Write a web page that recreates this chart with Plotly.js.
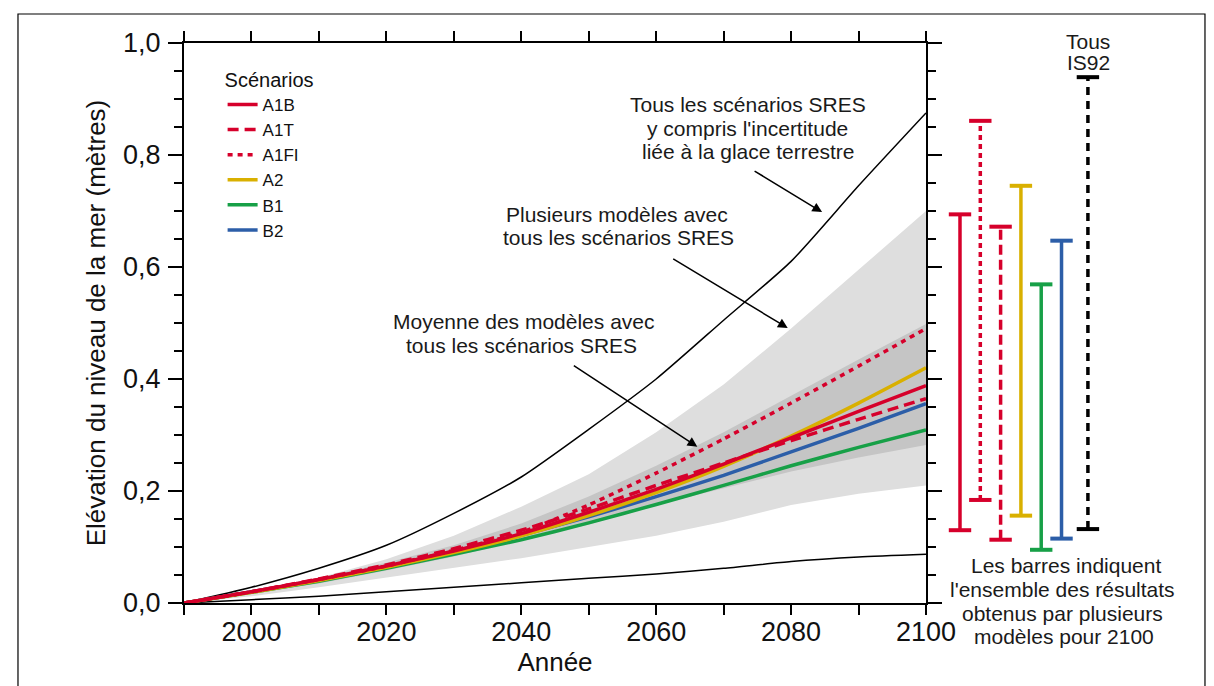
<!DOCTYPE html>
<html>
<head>
<meta charset="utf-8">
<script src="https://cdn.plot.ly/plotly-3.0.1.min.js"></script>
<style>html,body{margin:0;padding:0;background:#fff;}#chart{width:1214px;height:686px;}</style>
</head>
<body>
<div id="chart"></div>
<script>
// ---- data ----
const years = [1990, 2000, 2010, 2020, 2030, 2040, 2050, 2060, 2070, 2080, 2090, 2100];

const scenarioNames = ['A1B', 'A1T', 'A1FI', 'A2', 'B1', 'B2'];
const A1B  = [0, 0.020, 0.042, 0.066, 0.093, 0.124, 0.162, 0.203, 0.248, 0.295, 0.342, 0.388];
const A1T  = [0, 0.020, 0.043, 0.068, 0.097, 0.130, 0.168, 0.210, 0.250, 0.290, 0.328, 0.365];
const A1FI = [0, 0.020, 0.042, 0.066, 0.094, 0.126, 0.175, 0.232, 0.293, 0.357, 0.423, 0.490];
const A2   = [0, 0.019, 0.040, 0.064, 0.090, 0.120, 0.156, 0.197, 0.244, 0.298, 0.357, 0.420];
const B1   = [0, 0.019, 0.039, 0.062, 0.087, 0.113, 0.143, 0.176, 0.210, 0.245, 0.278, 0.309];
const B2   = [0, 0.020, 0.041, 0.065, 0.092, 0.121, 0.154, 0.190, 0.228, 0.270, 0.312, 0.356];

// envelope: all SRES scenarios incl. land-ice uncertainty
const envHigh = [0, 0.028, 0.062, 0.103, 0.160, 0.225, 0.310, 0.400, 0.505, 0.610, 0.745, 0.875];
const envLow  = [0, 0.006, 0.012, 0.020, 0.028, 0.036, 0.044, 0.052, 0.062, 0.074, 0.082, 0.087];
// several models, all SRES scenarios (light grey)
const rangeHigh = [0, 0.020, 0.045, 0.078, 0.120, 0.172, 0.230, 0.305, 0.390, 0.490, 0.595, 0.700];
const rangeLow  = [0, 0.012, 0.028, 0.045, 0.062, 0.080, 0.100, 0.120, 0.145, 0.175, 0.195, 0.210];
// model average, all SRES scenarios (dark grey)
const meanHigh = [0, 0.022, 0.045, 0.072, 0.103, 0.142, 0.190, 0.245, 0.305, 0.370, 0.435, 0.498];
const meanLow  = [0, 0.017, 0.035, 0.058, 0.083, 0.112, 0.140, 0.175, 0.205, 0.235, 0.260, 0.282];

// 2100 ranges (bars on the right)
const barLabels = ['A1B', 'A1FI', 'A1T', 'A2', 'B1', 'B2', 'IS92'];
const barPos    = [1, 2, 3, 4, 5, 6, 7.3];
const barLow    = [0.130, 0.184, 0.113, 0.156, 0.095, 0.115, 0.132];
const barHigh   = [0.694, 0.861, 0.672, 0.745, 0.569, 0.647, 0.939];

// ---- styles ----
const colors = {A1B: '#d6002b', A1T: '#d6002b', A1FI: '#d6002b', A2: '#d9b000', B1: '#17a047', B2: '#2c5ea8', IS92: '#000000'};
const dashes = {A1B: 'solid', A1T: '11px,6px', A1FI: '5px,5px', A2: 'solid', B1: 'solid', B2: 'solid'};
const barDashes = {A1B: 'solid', A1FI: '5px,4px', A1T: '10px,5px', A2: 'solid', B1: 'solid', B2: 'solid', IS92: '8px,6px'};
const series = {A1B, A1T, A1FI, A2, B1, B2};

const FONT = 'Liberation Sans, Arial, sans-serif';
const traces = [];

function band(lo, hi, color) {
  traces.push({x: years, y: lo, mode: 'lines', line: {width: 0, color: color}, showlegend: false, hoverinfo: 'skip'});
  traces.push({x: years, y: hi, mode: 'lines', line: {width: 0, color: color}, fill: 'tonexty', fillcolor: color, showlegend: false, hoverinfo: 'skip'});
}
band(rangeLow, rangeHigh, '#dedede');
band(meanLow, meanHigh, '#c5c5c5');

traces.push({x: years, y: envHigh, mode: 'lines', line: {color: '#000', width: 1.5, shape: 'spline', smoothing: 0.6}, showlegend: false, hoverinfo: 'skip'});
traces.push({x: years, y: envLow, mode: 'lines', line: {color: '#000', width: 1.5, shape: 'spline', smoothing: 0.6}, showlegend: false, hoverinfo: 'skip'});

const drawOrder = ['B1', 'B2', 'A2', 'A1T', 'A1B', 'A1FI'];
drawOrder.forEach(function (n) {
  traces.push({
    x: years, y: series[n], name: n, mode: 'lines',
    line: {color: colors[n], width: 3.5, dash: dashes[n], shape: 'spline', smoothing: 0.5},
    legendrank: scenarioNames.indexOf(n) + 1, hoverinfo: 'skip'
  });
});

barLabels.forEach(function (n, i) {
  traces.push({
    x: [barPos[i], barPos[i]], y: [barLow[i], barHigh[i]],
    xaxis: 'x2', yaxis: 'y', mode: 'lines+markers', showlegend: false, hoverinfo: 'skip',
    line: {color: colors[n], width: 3.5, dash: barDashes[n]},
    marker: {symbol: 'line-ew', size: 16, color: colors[n], line: {color: colors[n], width: 4}}
  });
});

const txt = (t, x, y) => ({text: t, x: x, y: y, xref: 'paper', yref: 'paper', showarrow: false, font: {family: FONT, size: 21, color: '#1a1a1a'}, xanchor: 'center', yanchor: 'middle'});
const arrow = (x, y, ax, ay) => ({text: '', x: x, y: y, xref: 'x', yref: 'y', showarrow: true, ax: ax, ay: ay, arrowhead: 2, arrowsize: 1.3, arrowwidth: 1.5, arrowcolor: '#000'});

const titleFont = {size: 26, family: FONT, color: '#111'};

const layout = {
  width: 1214, height: 686,
  margin: {l: 184, r: 14, t: 43, b: 83},
  paper_bgcolor: '#fff', plot_bgcolor: 'rgba(0,0,0,0)',
  separators: ', ',
  hovermode: false,
  font: {family: FONT, color: '#111'},
  xaxis: {
    domain: [0, 0.7303], range: [1990, 2100], tick0: 2000, dtick: 20,
    ticks: 'outside', ticklen: 10, tickwidth: 2, tickcolor: '#000',
    minor: {dtick: 10, ticks: 'outside', ticklen: 10, tickwidth: 2, tickcolor: '#000'},
    showline: true, linewidth: 2, linecolor: '#000', mirror: 'ticks',
    showgrid: false, zeroline: false, ticklabelstandoff: -6,
    tickfont: {size: 27, family: FONT, color: '#111'},
    title: {text: 'Année', font: titleFont, standoff: 4}
  },
  yaxis: {
    range: [0, 1.0], dtick: 0.2, tickformat: '.1f',
    ticks: 'outside', ticklen: 14, tickwidth: 2, tickcolor: '#000',
    minor: {dtick: 0.05, ticks: 'outside', ticklen: 8, tickwidth: 2, tickcolor: '#000'},
    showline: true, linewidth: 2, linecolor: '#000', mirror: 'ticks',
    showgrid: false, zeroline: false, ticklabelstandoff: 2,
    tickfont: {size: 27, family: FONT, color: '#111'},
    title: {text: 'Elévation du niveau de la mer (mètres)', font: titleFont, standoff: 10}
  },
  xaxis2: {domain: [0.7303, 1], range: [-0.675, 12.82], visible: false, anchor: 'y'},
  legend: {
    x: 0.038, y: 0.968, xanchor: 'left', yanchor: 'top', traceorder: 'normal',
    bgcolor: 'rgba(0,0,0,0)', borderwidth: 0,
    font: {size: 17, family: FONT, color: '#111'},
    title: {text: 'Scénarios', font: {size: 20, family: FONT, color: '#111'}}
  },
  shapes: [
    {type: 'rect', xref: 'paper', yref: 'paper', x0: -0.1634, x1: 1.0049, y0: -0.2, y1: 1.0518, line: {color: '#000', width: 1.2}, fillcolor: 'rgba(0,0,0,0)'}
  ],
  annotations: [
    txt('Tous les scénarios SRES', 0.5551, 0.8893),
    txt("y compris l'incertitude", 0.5551, 0.8482),
    txt('liée à la glace terrestre', 0.5551, 0.8071),
    txt('Plusieurs modèles avec', 0.4262, 0.6946),
    txt('tous les scénarios SRES', 0.4281, 0.6518),
    txt('Moyenne des modèles avec', 0.3346, 0.5018),
    txt('tous les scénarios SRES', 0.3317, 0.4607),
    txt('Tous', 0.8898, 1.0018),
    txt('IS92', 0.8898, 0.9643),
    txt('Les barres indiquent', 0.8681, 0.0661),
    txt("l'ensemble des résultats", 0.8642, 0.025),
    txt('obtenus par plusieurs', 0.8642, -0.0179),
    txt('modèles pour 2100', 0.8661, -0.0607),
    arrow(2084.6, 0.698, -69, -42),
    arrow(2079.5, 0.491, -116, -70),
    arrow(2066.1, 0.279, -125, -82)
  ]
};

Plotly.newPlot('chart', traces, layout, {displayModeBar: false, staticPlot: true});
</script>
</body>
</html>
